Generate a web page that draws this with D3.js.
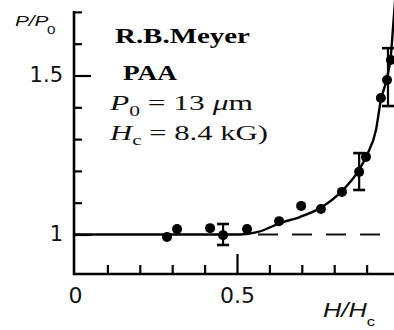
<!DOCTYPE html>
<html>
<head>
<meta charset="utf-8">
<script src="https://cdn.jsdelivr.net/npm/d3@7"></script>
<style>
  html, body { margin: 0; padding: 0; background: #fff; }
  svg { display: block; }
</style>
</head>
<body>
<svg id="chart" width="394" height="330"></svg>
<script>
// Theoretical pitch curve P/P0 versus reduced field H/Hc
const curveH = [0, 0.386, 0.509, 0.565, 0.633, 0.694, 0.756, 0.818, 0.870, 0.901, 0.929, 0.944, 0.963, 0.975, 0.981, 0.988];
const curveP = [1, 1, 1, 1.008, 1.036, 1.055, 1.083, 1.131, 1.193, 1.250, 1.329, 1.423, 1.492, 1.564, 1.643, 1.737];

// Measured pitch ratios (PAA)
const pointH = [0.284, 0.315, 0.417, 0.457, 0.531, 0.630, 0.698, 0.759, 0.824, 0.877, 0.898, 0.944, 0.963, 0.975];
const pointP = [0.992, 1.017, 1.020, 0.998, 1.017, 1.042, 1.090, 1.080, 1.134, 1.197, 1.244, 1.429, 1.486, 1.549];

// Error bars: position, centre, half-height
const errH = [0.457, 0.877, 0.966];
const errP = [1.000, 1.198, 1.495];
const errD = [0.033, 0.058, 0.091];

// Zero-field reference level, drawn dashed beyond the departure point
const refStartH = 0.565;
const refP = 1;

// Axis ticks and labels
const yTicks = [1, 1.1, 1.2, 1.3, 1.4, 1.5, 1.6, 1.7];
const yMajor = [1, 1.5];
const yLabels = ["1", "1.5"];
const xTicks = [0.1, 0.2, 0.3, 0.4, 0.5, 0.6, 0.7, 0.8, 0.9];
const xMajor = [0.5];
const xLabelValues = [0, 0.5];
const xLabels = ["0", "0.5"];

const svg = d3.select("#chart");

const x = d3.scaleLinear().domain([0, 1]).range([75, 399]);
const y = d3.scaleLinear().domain([1, 1.7]).range([234.5, 11.9]);
const yBottom = 274;   // baseline of the horizontal axis
const xLeft = 74;      // position of the vertical axis

// ---- vertical axis ----
const yAxis = d3.axisLeft(y)
  .tickValues(yTicks)
  .tickSizeInner(-8)
  .tickSizeOuter(0)
  .tickFormat("");
const gy = svg.append("g")
  .attr("transform", `translate(${xLeft},0)`)
  .call(yAxis);
gy.select(".domain").remove();
gy.append("line")
  .attr("x1", 0).attr("x2", 0)
  .attr("y1", y(1.7) - 1).attr("y2", yBottom + 1)
  .attr("stroke", "#000").attr("stroke-width", 2.6);
gy.selectAll(".tick line")
  .attr("stroke", "#000")
  .attr("stroke-width", 2.2)
  .attr("x2", d => yMajor.includes(d) ? 17 : 8);

// y labels
const yLab = d3.axisLeft(y)
  .tickValues(yMajor)
  .tickSize(0)
  .tickPadding(11)
  .tickFormat((d, i) => yLabels[i]);
const gyl = svg.append("g")
  .attr("transform", `translate(${xLeft},0)`)
  .call(yLab);
gyl.select(".domain").remove();
gyl.selectAll("text")
  .attr("font-family", "'DejaVu Sans', sans-serif")
  .attr("font-size", 21)
  .attr("fill", "#111")
  .attr("dy", "0.3em");

// ---- horizontal axis ----
const xAxis = d3.axisBottom(x)
  .tickValues(xTicks)
  .tickSizeInner(-9)
  .tickSizeOuter(0)
  .tickFormat("");
const gx = svg.append("g")
  .attr("transform", `translate(0,${yBottom})`)
  .call(xAxis);
gx.select(".domain").remove();
gx.append("line")
  .attr("x1", xLeft - 1).attr("x2", 400)
  .attr("y1", 0).attr("y2", 0)
  .attr("stroke", "#000").attr("stroke-width", 2.6);
gx.selectAll(".tick line")
  .attr("stroke", "#000")
  .attr("stroke-width", 2.2)
  .attr("y2", d => xMajor.includes(d) ? -20 : -9);

const xLab = d3.axisBottom(x)
  .tickValues(xLabelValues)
  .tickSize(0)
  .tickPadding(13)
  .tickFormat((d, i) => xLabels[i]);
const gxl = svg.append("g")
  .attr("transform", `translate(0,${yBottom})`)
  .call(xLab);
gxl.select(".domain").remove();
gxl.selectAll("text")
  .attr("font-family", "'DejaVu Sans', sans-serif")
  .attr("font-size", 22)
  .attr("fill", "#111");

// ---- reference level (dashed) ----
svg.append("line")
  .attr("x1", x(refStartH)).attr("x2", 400)
  .attr("y1", y(refP)).attr("y2", y(refP))
  .attr("stroke", "#111")
  .attr("stroke-width", 2)
  .attr("stroke-dasharray", "20 14");

// ---- theory curve ----
const curveData = curveH.map((h, i) => [h, curveP[i]]);
svg.append("path")
  .datum(curveData)
  .attr("fill", "none")
  .attr("stroke", "#000")
  .attr("stroke-width", 2.4)
  .attr("d", d3.line().x(d => x(d[0])).y(d => y(d[1])).curve(d3.curveMonotoneX));

// ---- error bars ----
const errData = errH.map((h, i) => ({ h, p: errP[i], d: errD[i] }));
const eb = svg.append("g").attr("stroke", "#000").attr("stroke-width", 2.2);
errData.forEach(e => {
  eb.append("line").attr("x1", x(e.h)).attr("x2", x(e.h))
    .attr("y1", y(e.p + e.d)).attr("y2", y(e.p - e.d));
  [e.p + e.d, e.p - e.d].forEach(v => {
    eb.append("line").attr("x1", x(e.h) - 6).attr("x2", x(e.h) + 6)
      .attr("y1", y(v)).attr("y2", y(v)).attr("stroke-width", 2.6);
  });
});

// ---- measured points ----
svg.append("g")
  .selectAll("circle")
  .data(pointH.map((h, i) => [h, pointP[i]]))
  .join("circle")
  .attr("cx", d => x(d[0]))
  .attr("cy", d => y(d[1]))
  .attr("r", 5)
  .attr("fill", "#000");

// ---- text helper: draw text and stretch it horizontally to a given width ----
function fitted(x0, y0, width, build) {
  const g = svg.append("g");
  const t = g.append("text").attr("x", 0).attr("y", 0);
  build(t);
  const w = t.node().getComputedTextLength();
  const s = width / w;
  g.attr("transform", `translate(${x0},${y0}) scale(${s},1)`);
  return t;
}

const serif = "'Liberation Serif', 'Times New Roman', serif";
const sans = "'Liberation Sans', Arial, sans-serif";

// axis titles
fitted(15, 26, 42, t => {
  t.attr("font-family", sans).attr("font-size", 15).attr("fill", "#111");
  t.append("tspan").attr("font-style", "italic").text("P/P");
  t.append("tspan").attr("font-size", 11).attr("dy", 8).attr("dx", -1).text("0");
});
fitted(323, 317, 52, t => {
  t.attr("font-family", sans).attr("font-size", 20).attr("fill", "#111");
  t.append("tspan").attr("font-style", "italic").text("H/H");
  t.append("tspan").attr("font-size", 13).attr("dy", 9).text("c");
});

// annotation block
fitted(115, 43, 135, t => {
  t.attr("font-family", serif).attr("font-size", 22).attr("font-weight", "bold").attr("fill", "#000")
    .text("R.B.Meyer");
});
fitted(123, 80, 54, t => {
  t.attr("font-family", serif).attr("font-size", 22).attr("font-weight", "bold").attr("fill", "#000")
    .text("PAA");
});
fitted(110, 110, 143, t => {
  t.attr("font-family", serif).attr("font-size", 22).attr("fill", "#111");
  t.append("tspan").attr("font-style", "italic").text("P");
  t.append("tspan").attr("font-size", 15).attr("dy", 6).text("0");
  t.append("tspan").attr("dy", -6).text(" = 13 ");
  t.append("tspan").attr("font-style", "italic").text("μ");
  t.append("tspan").text("m");
});
fitted(110, 140, 158, t => {
  t.attr("font-family", serif).attr("font-size", 22).attr("fill", "#111");
  t.append("tspan").attr("font-style", "italic").text("H");
  t.append("tspan").attr("font-size", 15).attr("dy", 5).text("c");
  t.append("tspan").attr("dy", -5).text(" = 8.4 kG)");
});
</script>
</body>
</html>
